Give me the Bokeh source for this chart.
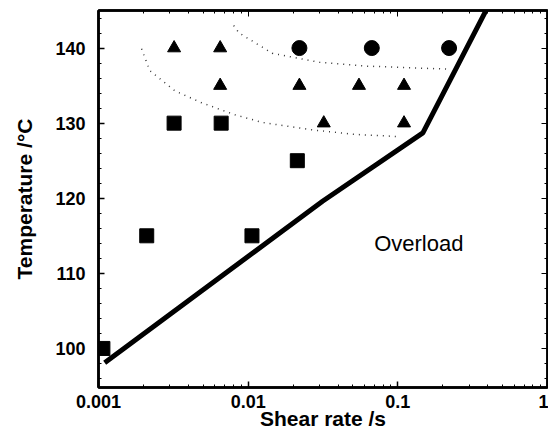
from bokeh.plotting import figure
from bokeh.models import (LinearAxis, LogAxis, Range1d, LogTicker, SingleIntervalTicker,
                          NumeralTickFormatter, Label)
from bokeh.embed import file_html
from bokeh.resources import INLINE

# ---- data ----
sq_rate = [0.00107, 0.0021, 0.0106, 0.0032, 0.0066, 0.0213]
sq_temp = [100, 115, 115, 130, 130, 125]

tri_rate = [0.0032, 0.0065, 0.0065, 0.022, 0.055, 0.11, 0.032, 0.11]
tri_temp = [140, 140, 135, 135, 135, 135, 130, 130]

circ_rate = [0.022, 0.067, 0.22]
circ_temp = [140, 140, 140]

limit_rate = [0.0011, 0.0314, 0.147, 0.40]
limit_temp = [98.1, 119.6, 128.7, 145.5]

upper_rate = [0.0080, 0.0087, 0.0145, 0.030, 0.061, 0.21]
upper_temp = [143.0, 142.0, 139.3, 138.1, 137.6, 137.2]

lower_rate = [0.00194, 0.0022, 0.00324, 0.0049, 0.0082, 0.0124, 0.0269, 0.052, 0.103]
lower_temp = [139.9, 137.0, 134.3, 132.7, 131.1, 130.1, 129.1, 128.5, 128.2]

x_ticks = [0.001, 0.01, 0.1, 1]
y_ticks = [100, 110, 120, 130, 140]

FONT = "Liberation Sans"

p = figure(width=548, height=436, x_axis_type="log",
           x_range=Range1d(0.001, 1), y_range=Range1d(94.8, 145),
           output_backend="svg", toolbar_location=None,
           min_border_left=98, min_border_top=10, min_border_right=1, min_border_bottom=49,
           x_axis_label="Shear rate /s", y_axis_label="Temperature /°C")

p.xgrid.visible = False
p.ygrid.visible = False
p.outline_line_color = "black"
p.outline_line_width = 2.5
p.background_fill_color = "white"
p.border_fill_color = "white"

p.xaxis.ticker = LogTicker(num_minor_ticks=10)
p.xaxis.formatter = NumeralTickFormatter(format="0.[000]")
p.yaxis.ticker = SingleIntervalTicker(interval=10, num_minor_ticks=5)

for ax in list(p.xaxis) + list(p.yaxis):
    ax.major_tick_in = 6
    ax.major_tick_out = 0
    ax.minor_tick_in = 3
    ax.minor_tick_out = 0
    ax.axis_line_width = 2.5
    ax.major_tick_line_width = 1.5
    ax.minor_tick_line_width = 1
    ax.major_label_text_font = FONT
    ax.major_label_text_font_style = "bold"
    ax.major_label_text_font_size = "18px"
    ax.major_label_text_color = "black"
    ax.axis_label_text_font = FONT
    ax.axis_label_text_font_style = "bold"
    ax.axis_label_text_font_size = "21px"
    ax.axis_label_text_color = "black"

p.xaxis.major_label_standoff = 7
p.xaxis.axis_label_standoff = -4
p.yaxis.major_label_standoff = 13
p.yaxis.axis_label_standoff = 16

ra = LinearAxis(ticker=SingleIntervalTicker(interval=10, num_minor_ticks=5),
                major_label_text_font_size="1px", major_label_text_alpha=0,
                major_label_standoff=0,
                major_tick_in=6, major_tick_out=0, minor_tick_in=3, minor_tick_out=0,
                axis_line_width=2.5)
p.add_layout(ra, "right")
ta = LogAxis(ticker=LogTicker(num_minor_ticks=10),
             major_label_text_font_size="1px", major_label_text_alpha=0,
             major_label_standoff=0,
             major_tick_in=6, major_tick_out=0, minor_tick_in=3, minor_tick_out=0,
             axis_line_width=2.5)
p.add_layout(ta, "above")

# dotted boundary curves
p.line(upper_rate, upper_temp, line_color="#333333", line_width=1.5, line_dash="1 5")
p.line(lower_rate, lower_temp, line_color="#333333", line_width=1.5, line_dash="1 5")

# overload limit line
p.line(limit_rate, limit_temp, line_color="black", line_width=5)

# markers
p.scatter(sq_rate, sq_temp, marker="square", size=14, fill_color="black", line_color="black")
p.scatter(tri_rate, tri_temp, marker="triangle", size=13, fill_color="black", line_color="black")
p.scatter(circ_rate, circ_temp, marker="circle", size=15, fill_color="black", line_color="black")

p.add_layout(Label(x=0.138, y=114, text="Overload", text_font=FONT, text_font_size="22px",
                   text_align="center", text_baseline="middle", text_color="black"))

open("out.html", "w").write(file_html(p, INLINE))
